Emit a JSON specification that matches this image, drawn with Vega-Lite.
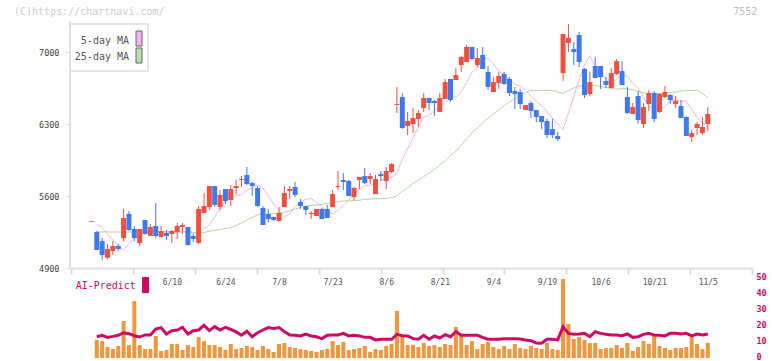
{
  "$schema": "https://vega.github.io/schema/vega-lite/v6.json",
  "width": 682,
  "height": 337,
  "autosize": {"type": "none"},
  "padding": {"left": 70, "top": 21, "right": 20, "bottom": 3},
  "background": "white",
  "config": {"view": {"stroke": null}, "axis": {"grid": false}},
  "data": {"values": [
    {"i":0,"o":5350,"h":5358,"l":5350,"c":5358,"v":null,"ai":null,"m5":null,"m25":null},
    {"i":1,"o":5250,"h":5260,"l":5075,"c":5075,"v":11.3,"ai":13.3,"m5":5330,"m25":5250},
    {"i":2,"o":5162,"h":5192,"l":4978,"c":5026,"v":10.6,"ai":14.2,"m5":5290,"m25":5250},
    {"i":3,"o":5000,"h":5133,"l":4987,"c":5085,"v":6.9,"ai":12.9,"m5":5235,"m25":5250},
    {"i":4,"o":5065,"h":5162,"l":5026,"c":5114,"v":5.6,"ai":13.5,"m5":5170,"m25":5250},
    {"i":5,"o":5114,"h":5133,"l":5065,"c":5085,"v":7.5,"ai":14.2,"m5":5125,"m25":5250},
    {"i":6,"o":5192,"h":5474,"l":5162,"c":5386,"v":23.1,"ai":15.8,"m5":5077,"m25":5250},
    {"i":7,"o":5425,"h":5454,"l":5260,"c":5269,"v":8.1,"ai":15.2,"m5":5139,"m25":5250},
    {"i":8,"o":5279,"h":5308,"l":5162,"c":5192,"v":35.6,"ai":13.9,"m5":5188,"m25":5250},
    {"i":9,"o":5143,"h":5279,"l":5114,"c":5279,"v":8.1,"ai":13.1,"m5":5209,"m25":5250},
    {"i":10,"o":5367,"h":5367,"l":5221,"c":5231,"v":5.6,"ai":14.4,"m5":5242,"m25":5250},
    {"i":11,"o":5211,"h":5328,"l":5211,"c":5299,"v":5.6,"ai":14.4,"m5":5271,"m25":5250},
    {"i":12,"o":5308,"h":5532,"l":5192,"c":5211,"v":13.8,"ai":18.1,"m5":5254,"m25":5250},
    {"i":13,"o":5201,"h":5308,"l":5201,"c":5260,"v":4.4,"ai":19.0,"m5":5242,"m25":5250},
    {"i":14,"o":5240,"h":5269,"l":5172,"c":5211,"v":5.0,"ai":15.0,"m5":5256,"m25":5250},
    {"i":15,"o":5231,"h":5269,"l":5143,"c":5260,"v":8.8,"ai":17.1,"m5":5242,"m25":5250},
    {"i":16,"o":5250,"h":5337,"l":5182,"c":5308,"v":8.8,"ai":17.5,"m5":5248,"m25":5250},
    {"i":17,"o":5299,"h":5337,"l":5231,"c":5318,"v":5.0,"ai":19.2,"m5":5250,"m25":5250},
    {"i":18,"o":5299,"h":5299,"l":5114,"c":5124,"v":8.1,"ai":15.0,"m5":5271,"m25":5250},
    {"i":19,"o":5211,"h":5231,"l":5153,"c":5182,"v":6.9,"ai":17.1,"m5":5244,"m25":5240},
    {"i":20,"o":5143,"h":5503,"l":5133,"c":5474,"v":13.1,"ai":17.5,"m5":5238,"m25":5238},
    {"i":21,"o":5435,"h":5629,"l":5435,"c":5503,"v":10.6,"ai":20.4,"m5":5281,"m25":5245},
    {"i":22,"o":5493,"h":5697,"l":5464,"c":5697,"v":8.1,"ai":17.1,"m5":5320,"m25":5258},
    {"i":23,"o":5697,"h":5697,"l":5493,"c":5513,"v":8.1,"ai":19.6,"m5":5396,"m25":5266},
    {"i":24,"o":5493,"h":5658,"l":5464,"c":5610,"v":6.9,"ai":17.5,"m5":5474,"m25":5274},
    {"i":25,"o":5668,"h":5668,"l":5522,"c":5551,"v":5.0,"ai":19.2,"m5":5559,"m25":5283},
    {"i":26,"o":5561,"h":5707,"l":5503,"c":5668,"v":8.8,"ai":17.9,"m5":5575,"m25":5291},
    {"i":27,"o":5678,"h":5756,"l":5619,"c":5697,"v":5.6,"ai":16.3,"m5":5608,"m25":5314},
    {"i":28,"o":5756,"h":5794,"l":5688,"c":5765,"v":6.3,"ai":14.2,"m5":5608,"m25":5341},
    {"i":29,"o":5804,"h":5882,"l":5707,"c":5717,"v":7.5,"ai":16.7,"m5":5658,"m25":5368},
    {"i":30,"o":5726,"h":5736,"l":5600,"c":5697,"v":6.9,"ai":13.3,"m5":5680,"m25":5392},
    {"i":31,"o":5678,"h":5697,"l":5493,"c":5503,"v":5.0,"ai":15.8,"m5":5709,"m25":5417},
    {"i":32,"o":5483,"h":5503,"l":5318,"c":5318,"v":7.5,"ai":17.5,"m5":5676,"m25":5422},
    {"i":33,"o":5425,"h":5474,"l":5347,"c":5376,"v":5.6,"ai":19.0,"m5":5600,"m25":5424},
    {"i":34,"o":5396,"h":5396,"l":5357,"c":5367,"v":3.8,"ai":18.5,"m5":5522,"m25":5431},
    {"i":35,"o":5357,"h":5493,"l":5347,"c":5435,"v":8.8,"ai":19.0,"m5":5452,"m25":5434},
    {"i":36,"o":5493,"h":5697,"l":5493,"c":5629,"v":9.4,"ai":16.5,"m5":5400,"m25":5443},
    {"i":37,"o":5649,"h":5697,"l":5571,"c":5668,"v":6.9,"ai":14.4,"m5":5425,"m25":5456},
    {"i":38,"o":5688,"h":5736,"l":5590,"c":5610,"v":6.3,"ai":14.2,"m5":5495,"m25":5474},
    {"i":39,"o":5542,"h":5571,"l":5474,"c":5503,"v":5.6,"ai":13.8,"m5":5542,"m25":5488},
    {"i":40,"o":5503,"h":5503,"l":5415,"c":5464,"v":5.0,"ai":15.0,"m5":5569,"m25":5500},
    {"i":41,"o":5425,"h":5454,"l":5376,"c":5435,"v":4.4,"ai":13.8,"m5":5575,"m25":5508},
    {"i":42,"o":5406,"h":5474,"l":5406,"c":5474,"v":3.8,"ai":13.3,"m5":5536,"m25":5513},
    {"i":43,"o":5474,"h":5483,"l":5376,"c":5376,"v":5.0,"ai":12.1,"m5":5497,"m25":5519},
    {"i":44,"o":5474,"h":5513,"l":5386,"c":5386,"v":5.6,"ai":14.2,"m5":5450,"m25":5529},
    {"i":45,"o":5493,"h":5658,"l":5493,"c":5619,"v":10.6,"ai":14.4,"m5":5427,"m25":5537},
    {"i":46,"o":5688,"h":5843,"l":5658,"c":5697,"v":8.1,"ai":14.4,"m5":5458,"m25":5543},
    {"i":47,"o":5756,"h":5824,"l":5658,"c":5736,"v":10.0,"ai":15.4,"m5":5510,"m25":5551},
    {"i":48,"o":5746,"h":5756,"l":5600,"c":5600,"v":5.0,"ai":13.8,"m5":5563,"m25":5553},
    {"i":49,"o":5590,"h":5688,"l":5561,"c":5678,"v":5.6,"ai":14.2,"m5":5608,"m25":5556},
    {"i":50,"o":5756,"h":5785,"l":5668,"c":5785,"v":6.3,"ai":13.8,"m5":5666,"m25":5559},
    {"i":51,"o":5794,"h":5872,"l":5717,"c":5726,"v":7.5,"ai":12.9,"m5":5699,"m25":5568},
    {"i":52,"o":5765,"h":5824,"l":5717,"c":5794,"v":3.8,"ai":12.9,"m5":5705,"m25":5570},
    {"i":53,"o":5619,"h":5804,"l":5619,"c":5765,"v":5.6,"ai":11.3,"m5":5717,"m25":5574},
    {"i":54,"o":5814,"h":5843,"l":5746,"c":5794,"v":5.0,"ai":11.7,"m5":5750,"m25":5574},
    {"i":55,"o":5746,"h":5882,"l":5668,"c":5843,"v":7.5,"ai":11.7,"m5":5773,"m25":5577},
    {"i":56,"o":5833,"h":5921,"l":5824,"c":5911,"v":8.8,"ai":11.7,"m5":5784,"m25":5583},
    {"i":57,"o":6485,"h":6660,"l":6407,"c":6494,"v":29.4,"ai":14.8,"m5":5821,"m25":5600},
    {"i":58,"o":6562,"h":6601,"l":6251,"c":6261,"v":13.8,"ai":13.9,"m5":5961,"m25":5647},
    {"i":59,"o":6281,"h":6417,"l":6193,"c":6329,"v":8.1,"ai":13.8,"m5":6061,"m25":5682},
    {"i":60,"o":6300,"h":6456,"l":6212,"c":6358,"v":8.1,"ai":12.1,"m5":6168,"m25":5721},
    {"i":61,"o":6349,"h":6436,"l":6271,"c":6407,"v":6.9,"ai":11.7,"m5":6271,"m25":5757},
    {"i":62,"o":6456,"h":6601,"l":6417,"c":6553,"v":9.4,"ai":14.2,"m5":6370,"m25":5789},
    {"i":63,"o":6553,"h":6553,"l":6436,"c":6504,"v":7.5,"ai":11.7,"m5":6382,"m25":5824},
    {"i":64,"o":6524,"h":6533,"l":6378,"c":6504,"v":8.1,"ai":13.8,"m5":6430,"m25":5860},
    {"i":65,"o":6417,"h":6601,"l":6417,"c":6553,"v":6.9,"ai":12.5,"m5":6465,"m25":5900},
    {"i":66,"o":6543,"h":6738,"l":6543,"c":6708,"v":8.8,"ai":14.6,"m5":6504,"m25":5943},
    {"i":67,"o":6738,"h":6738,"l":6514,"c":6533,"v":8.1,"ai":13.3,"m5":6564,"m25":5994},
    {"i":68,"o":6728,"h":6844,"l":6728,"c":6776,"v":19.4,"ai":16.5,"m5":6560,"m25":6037},
    {"i":69,"o":6874,"h":6961,"l":6806,"c":6951,"v":13.8,"ai":14.2,"m5":6615,"m25":6093},
    {"i":70,"o":6903,"h":7068,"l":6903,"c":7049,"v":8.1,"ai":14.2,"m5":6704,"m25":6155},
    {"i":71,"o":7049,"h":7049,"l":6922,"c":6932,"v":10.6,"ai":14.2,"m5":6803,"m25":6212},
    {"i":72,"o":6874,"h":7039,"l":6854,"c":6942,"v":5.6,"ai":14.2,"m5":6848,"m25":6262},
    {"i":73,"o":6971,"h":7049,"l":6835,"c":6835,"v":8.8,"ai":12.9,"m5":6930,"m25":6310},
    {"i":74,"o":6806,"h":6864,"l":6631,"c":6660,"v":10.0,"ai":11.7,"m5":6942,"m25":6359},
    {"i":75,"o":6611,"h":6757,"l":6611,"c":6708,"v":6.9,"ai":11.7,"m5":6884,"m25":6399},
    {"i":76,"o":6699,"h":6806,"l":6640,"c":6767,"v":5.6,"ai":11.7,"m5":6815,"m25":6436},
    {"i":77,"o":6786,"h":6806,"l":6679,"c":6689,"v":7.5,"ai":12.1,"m5":6782,"m25":6477},
    {"i":78,"o":6738,"h":6757,"l":6572,"c":6601,"v":5.6,"ai":12.1,"m5":6732,"m25":6513},
    {"i":79,"o":6621,"h":6660,"l":6446,"c":6592,"v":8.8,"ai":12.1,"m5":6685,"m25":6547},
    {"i":80,"o":6611,"h":6640,"l":6446,"c":6494,"v":6.3,"ai":11.9,"m5":6671,"m25":6578},
    {"i":81,"o":6436,"h":6485,"l":6436,"c":6485,"v":5.6,"ai":11.3,"m5":6629,"m25":6604},
    {"i":82,"o":6504,"h":6524,"l":6358,"c":6426,"v":7.5,"ai":10.8,"m5":6572,"m25":6627},
    {"i":83,"o":6436,"h":6436,"l":6319,"c":6368,"v":6.3,"ai":9.4,"m5":6520,"m25":6625},
    {"i":84,"o":6378,"h":6378,"l":6251,"c":6319,"v":5.6,"ai":9.2,"m5":6473,"m25":6629},
    {"i":85,"o":6329,"h":6349,"l":6164,"c":6193,"v":9.4,"ai":11.7,"m5":6418,"m25":6629},
    {"i":86,"o":6251,"h":6349,"l":6164,"c":6193,"v":5.6,"ai":11.7,"m5":6358,"m25":6622},
    {"i":87,"o":6183,"h":6222,"l":6135,"c":6154,"v":5.0,"ai":11.3,"m5":6300,"m25":6613},
    {"i":88,"o":6796,"h":7175,"l":6718,"c":7175,"v":49.4,"ai":19.6,"m5":6245,"m25":6597},
    {"i":89,"o":7088,"h":7272,"l":7000,"c":7136,"v":21.3,"ai":15.4,"m5":6407,"m25":6624},
    {"i":90,"o":7029,"h":7097,"l":6874,"c":7000,"v":11.9,"ai":14.8,"m5":6570,"m25":6650},
    {"i":91,"o":7165,"h":7194,"l":6854,"c":6903,"v":13.1,"ai":15.0,"m5":6732,"m25":6667},
    {"i":92,"o":6835,"h":6844,"l":6553,"c":6582,"v":11.3,"ai":15.4,"m5":6874,"m25":6675},
    {"i":93,"o":6592,"h":6806,"l":6572,"c":6708,"v":9.4,"ai":13.3,"m5":6959,"m25":6677},
    {"i":94,"o":6864,"h":6951,"l":6747,"c":6747,"v":9.4,"ai":16.5,"m5":6866,"m25":6675},
    {"i":95,"o":6864,"h":6864,"l":6640,"c":6757,"v":5.6,"ai":15.4,"m5":6788,"m25":6666},
    {"i":96,"o":6718,"h":6757,"l":6650,"c":6679,"v":6.3,"ai":14.8,"m5":6739,"m25":6655},
    {"i":97,"o":6650,"h":6844,"l":6650,"c":6796,"v":6.3,"ai":14.4,"m5":6695,"m25":6645},
    {"i":98,"o":6786,"h":6932,"l":6776,"c":6912,"v":8.1,"ai":14.4,"m5":6737,"m25":6639},
    {"i":99,"o":6815,"h":6912,"l":6679,"c":6679,"v":6.3,"ai":13.9,"m5":6778,"m25":6642},
    {"i":100,"o":6562,"h":6660,"l":6397,"c":6407,"v":9.4,"ai":15.0,"m5":6765,"m25":6643},
    {"i":101,"o":6397,"h":6504,"l":6397,"c":6465,"v":4.4,"ai":12.9,"m5":6695,"m25":6631},
    {"i":102,"o":6572,"h":6621,"l":6300,"c":6339,"v":6.9,"ai":13.3,"m5":6652,"m25":6618},
    {"i":103,"o":6300,"h":6504,"l":6261,"c":6465,"v":10.6,"ai":14.8,"m5":6560,"m25":6604},
    {"i":104,"o":6494,"h":6631,"l":6426,"c":6601,"v":8.8,"ai":15.4,"m5":6471,"m25":6599},
    {"i":105,"o":6601,"h":6621,"l":6319,"c":6349,"v":13.8,"ai":14.4,"m5":6455,"m25":6599},
    {"i":106,"o":6417,"h":6601,"l":6407,"c":6592,"v":7.5,"ai":14.2,"m5":6444,"m25":6594},
    {"i":107,"o":6562,"h":6669,"l":6553,"c":6611,"v":6.3,"ai":13.8,"m5":6469,"m25":6598},
    {"i":108,"o":6582,"h":6592,"l":6494,"c":6533,"v":5.0,"ai":15.4,"m5":6524,"m25":6605},
    {"i":109,"o":6494,"h":6572,"l":6456,"c":6524,"v":6.3,"ai":15.4,"m5":6537,"m25":6612},
    {"i":110,"o":6475,"h":6533,"l":6358,"c":6358,"v":6.3,"ai":15.0,"m5":6522,"m25":6620},
    {"i":111,"o":6368,"h":6378,"l":6183,"c":6183,"v":6.9,"ai":15.4,"m5":6524,"m25":6627},
    {"i":112,"o":6174,"h":6242,"l":6125,"c":6212,"v":13.1,"ai":13.8,"m5":6442,"m25":6626},
    {"i":113,"o":6261,"h":6319,"l":6193,"c":6300,"v":8.8,"ai":15.0,"m5":6362,"m25":6629},
    {"i":114,"o":6212,"h":6368,"l":6193,"c":6271,"v":5.6,"ai":14.4,"m5":6315,"m25":6594},
    {"i":115,"o":6300,"h":6465,"l":6232,"c":6397,"v":9.4,"ai":15.0,"m5":6265,"m25":6559}
  ]},
  "resolve": {"scale": {"y": "independent"}, "axis": {"x": "independent", "y": "independent"}},
  "layer": [
    {
      "mark": {"type": "line", "color": "#ebb3eb", "strokeWidth": 1},
      "encoding": {
        "x": {"field": "i", "type": "quantitative", "scale": {"domain": [-4, 123.25], "nice": false, "zero": false, "padding": 0}, "axis": null},
        "y": {"field": "m5", "type": "quantitative", "scale": {"domain": [4025, 7301.4], "nice": false, "zero": false}, "axis": null}
      }
    },
    {
      "mark": {"type": "line", "color": "#acd99c", "strokeWidth": 1},
      "encoding": {
        "x": {"field": "i", "type": "quantitative", "scale": {"domain": [-4, 123.25], "nice": false, "zero": false, "padding": 0}, "axis": null},
        "y": {"field": "m25", "type": "quantitative", "scale": {"domain": [4025, 7301.4], "nice": false, "zero": false}, "axis": null}
      }
    },
    {
      "mark": {"type": "rule", "strokeWidth": 1},
      "encoding": {
        "x": {"field": "i", "type": "quantitative", "scale": {"domain": [-4, 123.25], "nice": false, "zero": false, "padding": 0},
          "axis": {"orient": "bottom", "offset": -90, "values": [-3.81, 7.74, 19.3, 30.85, 42.41, 53.96, 65.51, 77.07, 88.62, 100.18, 111.73, 123.25], "labels": false, "title": null, "tickSize": 6, "tickColor": "#dddddd", "tickWidth": 2, "domainColor": "#dddddd", "domainWidth": 2, "grid": false}},
        "y": {"field": "l", "type": "quantitative", "scale": {"domain": [4025, 7301.4], "nice": false, "zero": false},
          "axis": {"orient": "left", "values": [4900, 5600, 6300, 7000], "format": "d", "title": null, "domain": false, "tickSize": 5, "tickColor": "#dddddd", "tickWidth": 1, "labelFont": "DejaVu Sans Mono", "labelFontSize": 8.5, "labelColor": "#444444", "labelPadding": 6, "grid": false}},
        "y2": {"field": "h"},
        "color": {"condition": {"test": "datum.c >= datum.o", "value": "#ef5040"}, "value": "#4079ee"}
      }
    },
    {
      "mark": {"type": "bar", "width": 5},
      "encoding": {
        "x": {"field": "i", "type": "quantitative", "scale": {"domain": [-4, 123.25], "nice": false, "zero": false, "padding": 0}, "axis": null},
        "y": {"field": "o", "type": "quantitative", "scale": {"domain": [4025, 7301.4], "nice": false, "zero": false}, "axis": null},
        "y2": {"field": "c"},
        "color": {"condition": {"test": "datum.c >= datum.o", "value": "#ef5040"}, "value": "#4079ee"}
      }
    },
    {
      "data": {"values": [{}]},
      "mark": {"type": "rule", "color": "#dddddd", "strokeWidth": 2},
      "encoding": {
        "x": {"datum": -4, "type": "quantitative", "scale": {"domain": [-4, 123.25], "nice": false, "zero": false, "padding": 0}, "axis": null},
        "y": {"datum": 4900, "type": "quantitative", "scale": {"domain": [4025, 7301.4], "nice": false, "zero": false}, "axis": null},
        "y2": {"datum": 7301.4}
      }
    },
    {
      "data": {"values": [{}]},
      "mark": {"type": "rect", "fill": "white", "stroke": "#dddddd", "strokeWidth": 1.5},
      "encoding": {
        "x": {"datum": -4, "type": "quantitative", "scale": {"domain": [-4, 123.25], "nice": false, "zero": false, "padding": 0}, "axis": null},
        "x2": {"datum": 10.56},
        "y": {"datum": 6815.3, "type": "quantitative", "scale": {"domain": [4025, 7301.4], "nice": false, "zero": false}, "axis": null},
        "y2": {"datum": 7272.2}
      }
    },
    {
      "data": {"values": [{}]},
      "mark": {"type": "text", "align": "right", "baseline": "middle", "font": "DejaVu Sans Mono", "fontSize": 10, "color": "#555555"},
      "encoding": {
        "x": {"datum": 7.01, "type": "quantitative", "scale": {"domain": [-4, 123.25], "nice": false, "zero": false, "padding": 0}, "axis": null},
        "y": {"datum": 7106.9, "type": "quantitative", "scale": {"domain": [4025, 7301.4], "nice": false, "zero": false}, "axis": null},
        "text": {"value": "5-day MA"}
      }
    },
    {
      "data": {"values": [{}]},
      "mark": {"type": "text", "align": "right", "baseline": "middle", "font": "DejaVu Sans Mono", "fontSize": 10, "color": "#555555"},
      "encoding": {
        "x": {"datum": 7.01, "type": "quantitative", "scale": {"domain": [-4, 123.25], "nice": false, "zero": false, "padding": 0}, "axis": null},
        "y": {"datum": 6951.4, "type": "quantitative", "scale": {"domain": [4025, 7301.4], "nice": false, "zero": false}, "axis": null},
        "text": {"value": "25-day MA"}
      }
    },
    {
      "data": {"values": [{}]},
      "mark": {"type": "rect", "fill": "#f0b6ee", "stroke": "#666666", "strokeWidth": 1},
      "encoding": {
        "x": {"datum": 8.32, "type": "quantitative", "scale": {"domain": [-4, 123.25], "nice": false, "zero": false, "padding": 0}, "axis": null},
        "x2": {"datum": 9.44},
        "y": {"datum": 7058.3, "type": "quantitative", "scale": {"domain": [4025, 7301.4], "nice": false, "zero": false}, "axis": null},
        "y2": {"datum": 7204.2}
      }
    },
    {
      "data": {"values": [{}]},
      "mark": {"type": "rect", "fill": "#b8e0aa", "stroke": "#666666", "strokeWidth": 1},
      "encoding": {
        "x": {"datum": 8.32, "type": "quantitative", "scale": {"domain": [-4, 123.25], "nice": false, "zero": false, "padding": 0}, "axis": null},
        "x2": {"datum": 9.44},
        "y": {"datum": 6893.1, "type": "quantitative", "scale": {"domain": [4025, 7301.4], "nice": false, "zero": false}, "axis": null},
        "y2": {"datum": 7038.9}
      }
    },
    {
      "data": {"values": [{}]},
      "mark": {"type": "text", "align": "left", "baseline": "middle", "font": "DejaVu Sans Mono", "fontSize": 10, "color": "#cccccc"},
      "encoding": {
        "x": {"datum": -14.45, "type": "quantitative", "scale": {"domain": [-4, 123.25], "nice": false, "zero": false, "padding": 0}, "axis": null},
        "y": {"datum": 7388.9, "type": "quantitative", "scale": {"domain": [4025, 7301.4], "nice": false, "zero": false}, "axis": null},
        "text": {"value": "(C)https://chartnavi.com/"}
      }
    },
    {
      "data": {"values": [{}]},
      "mark": {"type": "text", "align": "right", "baseline": "middle", "font": "DejaVu Sans Mono", "fontSize": 10, "color": "#bbbbbb"},
      "encoding": {
        "x": {"datum": 124.23, "type": "quantitative", "scale": {"domain": [-4, 123.25], "nice": false, "zero": false, "padding": 0}, "axis": null},
        "y": {"datum": 7388.9, "type": "quantitative", "scale": {"domain": [4025, 7301.4], "nice": false, "zero": false}, "axis": null},
        "text": {"value": "7552"}
      }
    },
    {
      "mark": {"type": "bar", "width": 4, "color": "#f0963c"},
      "encoding": {
        "x": {"field": "i", "type": "quantitative", "scale": {"domain": [-4, 123.25], "nice": false, "zero": false, "padding": 0},
          "axis": {"orient": "bottom", "offset": -76, "values": [15, 25, 35, 45, 55, 65, 75, 85, 95, 105, 115], "labelExpr": "['6/10','6/24','7/8','7/23','8/6','8/21','9/4','9/19','10/6','10/21','11/5'][round((datum.value-15)/10)]", "ticks": false, "tickSize": 0, "domain": false, "labelPadding": 0, "labelBaseline": "middle", "labelFont": "DejaVu Sans Mono", "labelFontSize": 8, "labelColor": "#555555", "labelFlush": false, "labelOverlap": false, "title": null, "grid": false}},
        "y": {"field": "v", "type": "quantitative", "scale": {"domain": [0, 210.625], "nice": false, "zero": false},
          "axis": {"orient": "right", "values": [0, 10, 20, 30, 40, 50], "format": "d", "domain": false, "ticks": false, "labelPadding": 4, "labelOffset": -1.5, "labelFont": "DejaVu Sans Mono", "labelFontSize": 8.5, "labelFontWeight": "bold", "labelColor": "#cc0a64", "title": null, "grid": false}}
      }
    },
    {
      "mark": {"type": "line", "color": "#cc0a64", "strokeWidth": 3},
      "encoding": {
        "x": {"field": "i", "type": "quantitative", "scale": {"domain": [-4, 123.25], "nice": false, "zero": false, "padding": 0}, "axis": null},
        "y": {"field": "ai", "type": "quantitative", "scale": {"domain": [0, 210.625], "nice": false, "zero": false}, "axis": null}
      }
    },
    {
      "data": {"values": [{}]},
      "mark": {"type": "text", "align": "left", "baseline": "middle", "font": "DejaVu Sans Mono", "fontSize": 10, "color": "#cc0a64"},
      "encoding": {
        "x": {"datum": -2.94, "type": "quantitative", "scale": {"domain": [-4, 123.25], "nice": false, "zero": false, "padding": 0}, "axis": null},
        "y": {"datum": 45, "type": "quantitative", "scale": {"domain": [0, 210.625], "nice": false, "zero": false}, "axis": null},
        "text": {"value": "AI-Predict"}
      }
    },
    {
      "data": {"values": [{}]},
      "mark": {"type": "rect", "fill": "#cc0a64"},
      "encoding": {
        "x": {"datum": 9.44, "type": "quantitative", "scale": {"domain": [-4, 123.25], "nice": false, "zero": false, "padding": 0}, "axis": null},
        "x2": {"datum": 10.75},
        "y": {"datum": 40.6, "type": "quantitative", "scale": {"domain": [0, 210.625], "nice": false, "zero": false}, "axis": null},
        "y2": {"datum": 50.6}
      }
    }
  ]
}
